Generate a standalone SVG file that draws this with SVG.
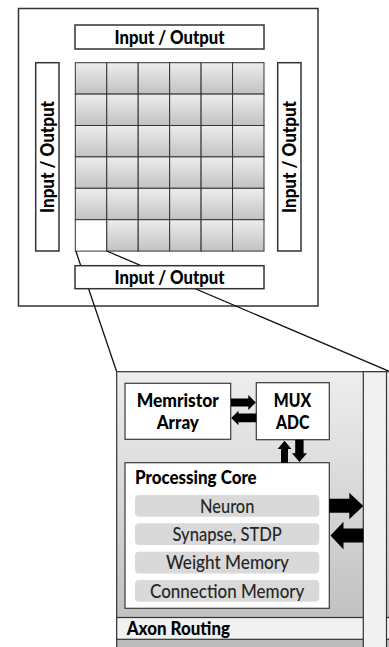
<svg xmlns="http://www.w3.org/2000/svg" width="389" height="647" viewBox="0 0 389 647">
  <defs>
    <linearGradient id="cellFill" x1="0" y1="0" x2="0" y2="1">
      <stop offset="0" stop-color="#ededed"/>
      <stop offset="1" stop-color="#c2c2c2"/>
    </linearGradient>
    <linearGradient id="tileFill" gradientUnits="userSpaceOnUse" x1="0" y1="372" x2="0" y2="647">
      <stop offset="0" stop-color="#eeeeee"/>
      <stop offset="1" stop-color="#bcbcbc"/>
    </linearGradient>
    <style>
      .frame { fill: #ffffff; stroke: #333333; stroke-width: 1.5; }
      .cell { fill: url(#cellFill); stroke: #333333; stroke-width: 1; }
      .box { fill: #ffffff; stroke: #3a3a3a; stroke-width: 1.2; }
      .bar { fill: #d9d9d9; }
      .band { fill: #f1f1f1; stroke: #333333; stroke-width: 1.2; }
      .link { fill: none; stroke: #111111; stroke-width: 1.3; }
      .arrow { fill: #000000; }
      .bold { font-family: Lato, "Liberation Sans", sans-serif; font-weight: 900; font-size: 18.5px; fill: #000000; }
      .reg { font-family: Lato, "Liberation Sans", sans-serif; font-weight: 500; font-size: 18.5px; fill: #262626; }
    </style>
  </defs>

  <!-- chip outline -->
  <g id="chip">
    <rect class="frame" x="18.5" y="8.5" width="299.5" height="297.5"/>
  </g>

  <!-- I/O blocks around the core array -->
  <g id="io-top">
    <rect class="frame" x="75" y="25" width="189" height="24"/>
    <text class="bold" x="169.5" y="44" text-anchor="middle" textLength="110" lengthAdjust="spacingAndGlyphs">Input / Output</text>
  </g>
  <g id="io-left">
    <rect class="frame" x="35.7" y="62.7" width="23.3" height="188.3"/>
    <text class="bold" transform="translate(53.6,157) rotate(-90)" x="0" y="0" text-anchor="middle" textLength="112" lengthAdjust="spacingAndGlyphs">Input / Output</text>
  </g>
  <g id="io-right">
    <rect class="frame" x="277.7" y="62.7" width="23.3" height="188.3"/>
    <text class="bold" transform="translate(295.7,157) rotate(-90)" x="0" y="0" text-anchor="middle" textLength="112" lengthAdjust="spacingAndGlyphs">Input / Output</text>
  </g>

  <!-- 6 x 6 core array -->
  <g id="core-array">
    <rect class="cell" x="75.3" y="62.7" width="31.45" height="31.4"/>
    <rect class="cell" x="106.75" y="62.7" width="31.45" height="31.4"/>
    <rect class="cell" x="138.2" y="62.7" width="31.45" height="31.4"/>
    <rect class="cell" x="169.65" y="62.7" width="31.45" height="31.4"/>
    <rect class="cell" x="201.1" y="62.7" width="31.45" height="31.4"/>
    <rect class="cell" x="232.55" y="62.7" width="31.45" height="31.4"/>

    <rect class="cell" x="75.3" y="94.1" width="31.45" height="31.4"/>
    <rect class="cell" x="106.75" y="94.1" width="31.45" height="31.4"/>
    <rect class="cell" x="138.2" y="94.1" width="31.45" height="31.4"/>
    <rect class="cell" x="169.65" y="94.1" width="31.45" height="31.4"/>
    <rect class="cell" x="201.1" y="94.1" width="31.45" height="31.4"/>
    <rect class="cell" x="232.55" y="94.1" width="31.45" height="31.4"/>

    <rect class="cell" x="75.3" y="125.5" width="31.45" height="31.4"/>
    <rect class="cell" x="106.75" y="125.5" width="31.45" height="31.4"/>
    <rect class="cell" x="138.2" y="125.5" width="31.45" height="31.4"/>
    <rect class="cell" x="169.65" y="125.5" width="31.45" height="31.4"/>
    <rect class="cell" x="201.1" y="125.5" width="31.45" height="31.4"/>
    <rect class="cell" x="232.55" y="125.5" width="31.45" height="31.4"/>

    <rect class="cell" x="75.3" y="156.9" width="31.45" height="31.4"/>
    <rect class="cell" x="106.75" y="156.9" width="31.45" height="31.4"/>
    <rect class="cell" x="138.2" y="156.9" width="31.45" height="31.4"/>
    <rect class="cell" x="169.65" y="156.9" width="31.45" height="31.4"/>
    <rect class="cell" x="201.1" y="156.9" width="31.45" height="31.4"/>
    <rect class="cell" x="232.55" y="156.9" width="31.45" height="31.4"/>

    <rect class="cell" x="75.3" y="188.3" width="31.45" height="31.4"/>
    <rect class="cell" x="106.75" y="188.3" width="31.45" height="31.4"/>
    <rect class="cell" x="138.2" y="188.3" width="31.45" height="31.4"/>
    <rect class="cell" x="169.65" y="188.3" width="31.45" height="31.4"/>
    <rect class="cell" x="201.1" y="188.3" width="31.45" height="31.4"/>
    <rect class="cell" x="232.55" y="188.3" width="31.45" height="31.4"/>

    <rect x="75.3" y="219.7" width="31.45" height="31.4" fill="#ffffff" stroke="#333333" stroke-width="1"/>
    <rect class="cell" x="106.75" y="219.7" width="31.45" height="31.4"/>
    <rect class="cell" x="138.2" y="219.7" width="31.45" height="31.4"/>
    <rect class="cell" x="169.65" y="219.7" width="31.45" height="31.4"/>
    <rect class="cell" x="201.1" y="219.7" width="31.45" height="31.4"/>
    <rect class="cell" x="232.55" y="219.7" width="31.45" height="31.4"/>
  </g>

  <!-- zoom lines from the highlighted core to the detail view -->
  <g id="connectors">
    <line class="link" x1="75.8" y1="251" x2="116.7" y2="371.7"/>
    <line class="link" x1="106.7" y1="251" x2="392" y2="372.5"/>
  </g>

  <g id="io-bottom">
    <rect class="frame" x="75" y="265.7" width="189" height="23"/>
    <text class="bold" x="169.5" y="284.4" text-anchor="middle" textLength="110" lengthAdjust="spacingAndGlyphs">Input / Output</text>
  </g>

  <!-- detail view of a single core tile -->
  <g id="tile">
    <rect x="116.7" y="371.7" width="300" height="300" fill="url(#tileFill)" stroke="#333333" stroke-width="1.2"/>
  </g>

  <g id="axon-routing">
    <rect class="band" x="116.7" y="617.5" width="290" height="21.8"/>
    <text class="bold" x="126.7" y="635.2" textLength="103.3" lengthAdjust="spacingAndGlyphs">Axon Routing</text>
  </g>

  <g id="routing-strip">
    <rect class="band" x="363.3" y="371.7" width="23.2" height="290"/>
  </g>

  <g id="memristor-array">
    <rect class="box" x="125" y="383.3" width="105.7" height="56"/>
    <text class="bold" x="177.8" y="407.4" text-anchor="middle" textLength="82.3" lengthAdjust="spacingAndGlyphs">Memristor</text>
    <text class="bold" x="177.8" y="428.7" text-anchor="middle" textLength="42.3" lengthAdjust="spacingAndGlyphs">Array</text>
  </g>

  <g id="mux-adc">
    <rect class="box" x="256.3" y="382.7" width="73" height="57"/>
    <text class="bold" x="292.5" y="406.7" text-anchor="middle" textLength="37.3" lengthAdjust="spacingAndGlyphs">MUX</text>
    <text class="bold" x="292.7" y="428.7" text-anchor="middle" textLength="33.3" lengthAdjust="spacingAndGlyphs">ADC</text>
  </g>

  <g id="processing-core">
    <rect class="box" x="125" y="462.7" width="204.3" height="145.6"/>
    <text class="bold" x="135" y="484.4" textLength="121.7" lengthAdjust="spacingAndGlyphs">Processing Core</text>
    <rect class="bar" x="135" y="495" width="184.3" height="21.7" rx="4"/>
    <text class="reg" x="227.2" y="512.7" text-anchor="middle" textLength="54.3" lengthAdjust="spacingAndGlyphs">Neuron</text>
    <rect class="bar" x="135" y="523.3" width="184.3" height="21.7" rx="4"/>
    <text class="reg" x="227.2" y="541" text-anchor="middle" textLength="109.3" lengthAdjust="spacingAndGlyphs">Synapse, STDP</text>
    <rect class="bar" x="135" y="551.7" width="184.3" height="21.7" rx="4"/>
    <text class="reg" x="227.5" y="568.9" text-anchor="middle" textLength="123" lengthAdjust="spacingAndGlyphs">Weight Memory</text>
    <rect class="bar" x="135" y="580" width="184.3" height="21.7" rx="4"/>
    <text class="reg" x="227.2" y="597.6" text-anchor="middle" textLength="154.3" lengthAdjust="spacingAndGlyphs">Connection Memory</text>
  </g>

  <!-- block arrows between the tile blocks -->
  <g id="arrows">
    <polygon class="arrow" points="231,398.6 248.3,398.6 248.3,395 255.8,402.5 248.3,410 248.3,406.4 231,406.4"/>
    <polygon class="arrow" points="256.3,413.6 238.5,413.6 238.5,410.8 231.2,418 238.5,425.2 238.5,422.2 256.3,422.2"/>
    <polygon class="arrow" points="281,462.7 281,449 277.6,449 284.5,440.7 291.4,449 288,449 288,462.7"/>
    <polygon class="arrow" points="295.2,439.7 295.2,453.3 292,453.3 299.5,462 307,453.3 303.6,453.3 303.6,439.7"/>
    <polygon class="arrow" points="329.3,498.8 349.3,498.8 349.3,492.7 363.3,506 349.3,519.3 349.3,512.8 329.3,512.8"/>
    <polygon class="arrow" points="363.3,528.4 343.5,528.4 343.5,521.7 330.5,535.6 343.5,549.6 343.5,542.4 363.3,542.4"/>
  </g>
</svg>
